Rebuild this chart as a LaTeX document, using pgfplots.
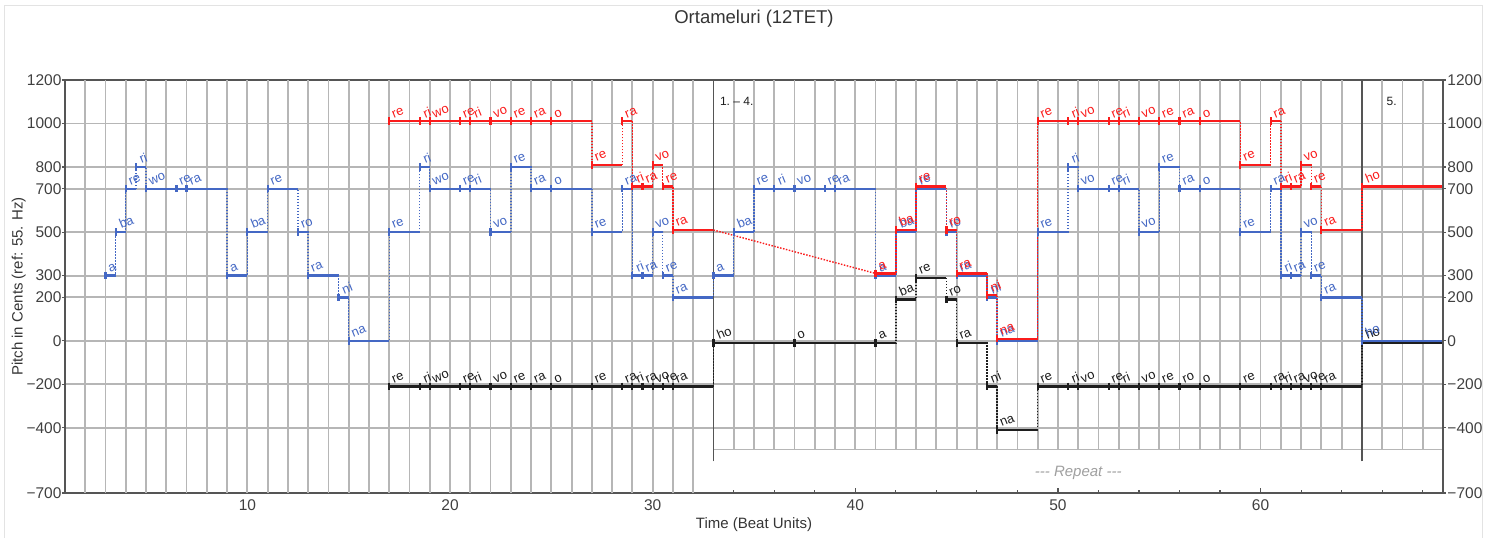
\documentclass[border=0pt]{standalone}
\usepackage{fontspec}
\setmainfont{Liberation Sans}
\usepackage{graphicx}
\usepackage{pgfplots}
\usepackage{pgfplotstable}
\pgfplotsset{compat=1.18}

\definecolor{bluec}{RGB}{68,104,196}
\definecolor{redc}{RGB}{250,28,28}
\definecolor{blackc}{RGB}{30,30,30}
\definecolor{gridc}{RGB}{182,182,182}
\definecolor{framec}{RGB}{85,85,85}

% s = start beat, e = end beat, p = pitch in cents
\pgfplotstableread{
s e p lab
3 3.5 300 a
3.5 4 500 ba
4 4.5 700 re
4.5 5 800 ri
5 6.5 700 wo
6.5 7 700 re
7 9 700 ra
9 10 300 a
10 11 500 ba
11 12.5 700 re
12.5 13 500 ro
13 14.5 300 ra
14.5 15 200 ni
15 17 0 na
17 18.5 500 re
18.5 19 800 ri
19 20.5 700 wo
20.5 21 700 re
21 22 700 ri
22 23 500 vo
23 24 800 re
24 25 700 ra
25 27 700 o
27 28.5 500 re
28.5 29 700 ra
29 29.5 300 ri
29.5 30 300 ra
30 30.5 500 vo
30.5 31 300 re
31 33 200 ra
33 34 300 a
34 35 500 ba
35 36 700 re
36 37 700 ri
37 38.5 700 vo
38.5 39 700 re
39 41 700 ra
41 42 300 a
42 43 500 ba
43 44.5 700 re
44.5 45 500 ro
45 46.5 300 ra
46.5 47 200 ni
47 49 0 na
49 50.5 500 re
50.5 51 800 ri
51 52.5 700 vo
52.5 53 700 re
53 54 700 ri
54 55 500 vo
55 56 800 re
56 57 700 ra
57 59 700 o
59 60.5 500 re
60.5 61 700 ra
61 61.5 300 ri
61.5 62 300 ra
62 62.5 500 vo
62.5 63 300 re
63 65 200 ra
65 69 0 ho
}\bluevoice

\pgfplotstableread{
s e p lab
17 18.5 1000 re
18.5 19 1000 ri
19 20.5 1000 wo
20.5 21 1000 re
21 22 1000 ri
22 23 1000 vo
23 24 1000 re
24 25 1000 ra
25 27 1000 o
27 28.5 800 re
28.5 29 1000 ra
29 29.5 700 ri
29.5 30 700 ra
30 30.5 800 vo
30.5 31 700 re
31 33 500 ra
}\redvoiceA

\pgfplotstableread{
s e p lab
41 42 300 a
42 43 500 ba
43 44.5 700 re
44.5 45 500 ro
45 46.5 300 ra
46.5 47 200 ni
47 49 0 na
49 50.5 1000 re
50.5 51 1000 ri
51 52.5 1000 vo
52.5 53 1000 re
53 54 1000 ri
54 55 1000 vo
55 56 1000 re
56 57 1000 ra
57 59 1000 o
59 60.5 800 re
60.5 61 1000 ra
61 61.5 700 ri
61.5 62 700 ra
62 62.5 800 vo
62.5 63 700 re
63 65 500 ra
65 69 700 ho
}\redvoiceB

\pgfplotstableread{
s e p lab
17 18.5 -200 re
18.5 19 -200 ri
19 20.5 -200 wo
20.5 21 -200 re
21 22 -200 ri
22 23 -200 vo
23 24 -200 re
24 25 -200 ra
25 27 -200 o
27 28.5 -200 re
28.5 29 -200 ra
29 29.5 -200 ri
29.5 30 -200 ra
30 30.5 -200 vo
30.5 31 -200 re
31 33 -200 ra
33 37 0 ho
37 41 0 o
41 42 0 a
42 43 200 ba
43 44.5 300 re
44.5 45 200 ro
45 46.5 0 ra
46.5 47 -200 ni
47 49 -400 na
49 50.5 -200 re
50.5 51 -200 ri
51 52.5 -200 vo
52.5 53 -200 re
53 54 -200 ri
54 55 -200 vo
55 56 -200 re
56 57 -200 ro
57 59 -200 o
59 60.5 -200 re
60.5 61 -200 ra
61 61.5 -200 ri
61.5 62 -200 ra
62 62.5 -200 vo
62.5 63 -200 re
63 65 -200 ra
65 69 0 ho
}\blackvoice

% #1 table, #2 colour, #3 vertical offset (cents) so voices do not overlap
\newcommand{\voice}[3]{%
  \addplot[#2, dash pattern=on 1.5bp off 1.5bp, line width=1.4bp, const plot, forget plot]
    table[x=s, y expr=\thisrow{p}+#3] {#1};
  \addplot[#2, only marks, mark=|, mark size=3.8bp,
    mark options={solid, line width=2.2bp},
    error bars/x dir=plus, error bars/x explicit, error bars/error mark=none,
    error bars/error bar style={solid, line width=2.3bp, draw=#2},
    nodes near coords={\rotatebox{22}{\pgfplotspointmeta}},
    point meta=explicit symbolic,
    every node near coord/.append style={anchor=south west,
      inner sep=0.5bp, xshift=0.5bp, yshift=1.5bp, text=#2,
      font=\fontsize{13bp}{15bp}\selectfont}]
    table[x=s, y expr=\thisrow{p}+#3, x error expr=\thisrow{e}-\thisrow{s}, meta=lab] {#1};
}

\begin{document}
\begin{tikzpicture}
\path[use as bounding box] (-65bp,-45bp) rectangle (1433bp,493bp);
\draw[gray!22, line width=1bp] (-60bp,-45bp) -- (-60bp,487bp) -- (1417bp,487bp) -- (1417bp,-45bp);

\begin{axis}[
  width=1378bp, height=413bp, scale only axis,
  at={(0,0)}, anchor=south west,
  xmin=1, xmax=69, ymin=-700, ymax=1200,
  axis line style={framec, line width=1.5bp},
  tick align=inside, xtick pos=left, ytick pos=left,
  xtick={10,20,...,60}, xticklabels={10,20,30,40,50,60},
  minor xtick={34,36,...,68},
  major tick length=5bp, minor tick length=3bp,
  tick style={framec, line width=1.2bp},
  ytick={-700,-400,-200,0,200,300,500,700,800,1000,1200},
  yticklabels={−700,−400,−200,0,200,300,500,700,800,1000,1200},
  ytick style={draw=none},
  ymajorgrids, major grid style={gridc, line width=1.8bp},
  tick label style={font=\fontsize{15.5bp}{18bp}\selectfont, text=blackc!85},
  xticklabel style={yshift=-3bp},
  title={Ortameluri (12TET)},
  title style={font=\fontsize{18.5bp}{22bp}\selectfont, text=blackc!90,
    at={(axis description cs:0.5,1.1344)}, anchor=center},
  xlabel={Time (Beat Units)},
  xlabel style={font=\fontsize{15bp}{18bp}\selectfont, text=blackc!90,
    at={(axis description cs:0.5,-0.0775)}, anchor=center},
  ylabel={Pitch in Cents (ref: 55. Hz)},
  ylabel style={font=\fontsize{15bp}{18bp}\selectfont, text=blackc!90,
    at={(axis description cs:-0.0335,0.5)}, anchor=center},
]
% beat grid (stops at -500 in the repeat section)
\pgfplotsinvokeforeach{2,...,32}{\draw[gridc, line width=1.8bp] (axis cs:#1,-700) -- (axis cs:#1,1200);}
\pgfplotsinvokeforeach{34,...,64}{\draw[gridc, line width=1.8bp] (axis cs:#1,-500) -- (axis cs:#1,1200);}
\pgfplotsinvokeforeach{66,...,68}{\draw[gridc, line width=1.8bp] (axis cs:#1,-500) -- (axis cs:#1,1200);}
\draw[gridc, line width=1.8bp] (axis cs:33,-500) -- (axis cs:69,-500);
\draw[framec, line width=1.6bp] (axis cs:33,-555) -- (axis cs:33,1200);
\draw[framec, line width=1.6bp] (axis cs:65,-555) -- (axis cs:65,1200);

\voice{\blackvoice}{blackc}{-10}
\voice{\bluevoice}{bluec}{0}
\addplot[redc, dash pattern=on 1.5bp off 1.5bp, line width=1.4bp, forget plot] coordinates {(33,510) (41,310)};
\voice{\redvoiceA}{redc}{10}
\voice{\redvoiceB}{redc}{10}

\node[anchor=west, font=\fontsize{12bp}{14bp}\selectfont, text=blackc] at (axis cs:33.15,1100) {1.\ – 4.};
\node[anchor=west, font=\fontsize{12bp}{14bp}\selectfont, text=blackc] at (axis cs:66.05,1100) {5.};
\node[font=\itshape\fontsize{15bp}{18bp}\selectfont, text=gray!75] at (axis cs:51,-608) {-{}-{}- Repeat -{}-{}-};
\end{axis}

\begin{axis}[
  width=1378bp, height=413bp, scale only axis,
  at={(0,0)}, anchor=south west,
  xmin=1, xmax=69, ymin=-700, ymax=1200,
  hide x axis,
  axis line style={framec, line width=1.5bp},
  tick align=outside, major tick length=3bp,
  tick style={framec, line width=1.2bp},
  ytick={-700,-400,-200,0,200,300,500,700,800,1000,1200},
  yticklabels={−700,−400,−200,0,200,300,500,700,800,1000,1200},
  yticklabel pos=right, ytick pos=both,
  tick label style={font=\fontsize{15.5bp}{18bp}\selectfont, text=blackc!85},
  yticklabel style={xshift=-2bp},
]
\addplot[draw=none, forget plot] coordinates {(1,0)};
\end{axis}
\end{tikzpicture}
\end{document}
